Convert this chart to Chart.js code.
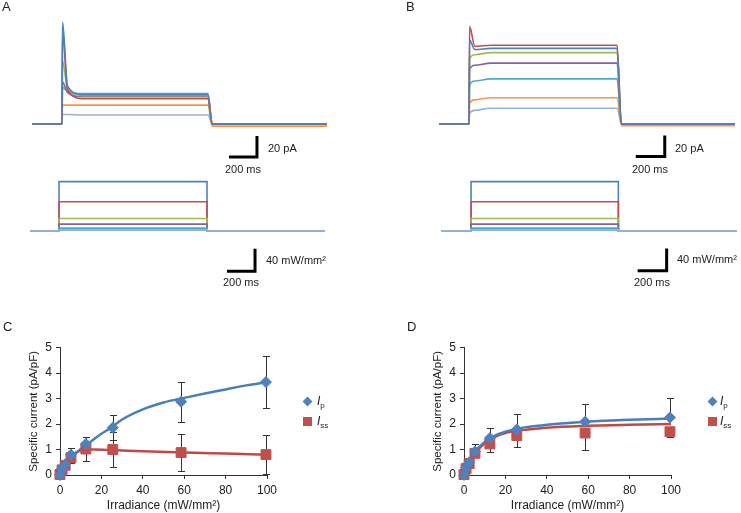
<!DOCTYPE html>
<html lang="en">
<head>
  <meta charset="utf-8">
  <title>Photocurrents vs irradiance</title>
  <script src="https://cdn.jsdelivr.net/npm/chart.js@4.4.0/dist/chart.umd.min.js"></script>
  <style>
    body { margin: 0; background: #fff; font-family: 'Liberation Sans', Arial, sans-serif; color: #222; }
    #fig { position: relative; width: 741px; height: 513px; overflow: hidden; }
    canvas { position: absolute; }
    .txt { position: absolute; font-size: 11px; line-height: 12px; white-space: nowrap; }
    .mid { transform: translateX(-50%); }
    .panel { position: absolute; font-size: 13px; line-height: 14px; }
    .leg { position: absolute; font-size: 12px; line-height: 14px; }
    .leg sub { font-size: 8px; vertical-align: -3px; font-style: normal; }
    .dia, .sq { position: absolute; }
    .dia { width: 7px; height: 7px; background: #4F81BD; transform: rotate(45deg); }
    .sq { width: 9px; height: 9px; background: #C0504D; }
  </style>
</head>
<body>
<div id="fig">
  <canvas id="chartA" width="370" height="300" style="left:0;top:0"></canvas>
  <canvas id="chartB" width="371" height="300" style="left:370px;top:0"></canvas>
  <canvas id="chartC" width="370" height="183" style="left:0;top:330px"></canvas>
  <canvas id="chartD" width="371" height="183" style="left:370px;top:330px"></canvas>

  <div class="panel" style="left:2px;top:0">A</div>
  <div class="panel" style="left:406px;top:0">B</div>
  <div class="panel" style="left:3px;top:320px">C</div>
  <div class="panel" style="left:407px;top:320px">D</div>

  <div class="txt" style="left:268px;top:142px">20 pA</div>
  <div class="txt mid" style="left:243px;top:163px">200 ms</div>
  <div class="txt" style="left:266px;top:254px">40 mW/mm²</div>
  <div class="txt mid" style="left:241px;top:276px">200 ms</div>

  <div class="txt" style="left:675px;top:142px">20 pA</div>
  <div class="txt mid" style="left:650px;top:163px">200 ms</div>
  <div class="txt" style="left:677px;top:253px">40 mW/mm²</div>
  <div class="txt mid" style="left:652px;top:276px">200 ms</div>

  <div class="dia" style="left:303.5px;top:397.5px"></div>
  <div class="leg" style="left:317px;top:394px"><i>I</i><sub>p</sub></div>
  <div class="sq" style="left:302.5px;top:416.5px"></div>
  <div class="leg" style="left:317px;top:414px"><i>I</i><sub>ss</sub></div>

  <div class="dia" style="left:708.5px;top:397.5px"></div>
  <div class="leg" style="left:720px;top:394px"><i>I</i><sub>p</sub></div>
  <div class="sq" style="left:707.5px;top:416.5px"></div>
  <div class="leg" style="left:720px;top:414px"><i>I</i><sub>ss</sub></div>
</div>

<script>
  // ---- values ----
  // light steps, high -> low (one colour each)
  const traceColors = ['#4F81BD', '#C0504D', '#9BBB59', '#8064A2', '#4BACC6', '#F79646', '#95B3D7'];
  const stimLevels = [88, 52, 22, 12, 5, 2, 1];            // mW/mm² as drawn

  // panel A photocurrents (pA)
  const aTimes   = [0, 214, 1257, 2107];                  // start, light on, light off, end (ms)
  const aPeak    = [97, 87, 60, 40, 35, 18, 9];
  const aSettle  = [36, 33, 33, 30, 31, 18, 9];
  const aPlateau = [28, 24, 27, 26, 29, 18, 8.6];
  const aUnder   = [0, 0, 0, 0, 0, -2, 0];
  const aStim    = [-14, 193, 1250, 2093];
  const aBarT    = [1407, 1607];                          // 200 ms bar
  const aBarPA   = [-31.4, -11.4];                        // 20 pA bar
  const aStimBarT = [1393, 1593];
  const aStimBarI = [-72, -32];                           // 40 mW/mm² bar

  // panel B photocurrents (pA)
  const bTimes   = [0, 207, 1228, 2041];
  const bPeak    = [80, 93, 62, 52, 37, 20, 10];
  const bSettle  = [71, 74, 66, 56, 41, 23, 13];
  const bPlateau = [72, 75, 68, 58, 43, 25, 15];
  const bUnder   = [0, 0, 0, 0, 0, -1.5, 0];
  const bStim    = [14, 221, 1237, 2055];
  const bBarT    = [1357, 1557];
  const bBarPA   = [-31, -11];
  const bStimBarT = [1370, 1570];
  const bStimBarI = [-71.4, -31.4];

  // panels C and D: specific current (pA/pF) vs irradiance (mW/mm²)
  const irradiance = [0, 1, 2.5, 5.3, 12.5, 25.5, 58.5, 99.5];
  const cIp      = [0, 0.25, 0.42, 0.8, 1.22, 1.86, 2.88, 3.65];
  const cIpErr   = [0, 0.08, 0.12, 0.27, 0.28, 0.48, 0.79, 1.03];
  const cIss     = [0.02, 0.2, 0.38, 0.68, 1.02, 1.0, 0.88, 0.8];
  const cIssErr  = [0, 0.06, 0.1, 0.2, 0.48, 0.7, 0.72, 0.78];
  const cFitIpX  = [0, 2, 5, 10, 15, 20, 25, 30, 40, 50, 60, 70, 80, 90, 100];
  const cFitIp   = [0, 0.32, 0.66, 1.02, 1.32, 1.62, 1.88, 2.18, 2.58, 2.85, 3.03, 3.2, 3.36, 3.52, 3.65];
  const cFitIssX = [0, 2, 5, 8, 12, 16, 25, 40, 60, 80, 100];
  const cFitIss  = [0, 0.4, 0.72, 0.9, 0.99, 1.0, 0.98, 0.93, 0.88, 0.84, 0.8];

  const dIp       = [0, 0.3, 0.5, 0.92, 1.45, 1.79, 2.09, 2.26];
  const dIpErrUp  = [0, 0.1, 0.15, 0.3, 0.38, 0.6, 0.7, 0.78];
  const dIss      = [0.02, 0.25, 0.45, 0.85, 1.22, 1.55, 1.65, 1.7];
  const dIssErrDn = [0, 0.05, 0.1, 0.15, 0.3, 0.44, 0.65, 0.22];
  const dFitX     = [0, 2, 5, 10, 15, 20, 25, 30, 40, 60, 80, 100];
  const dFitIp    = [0, 0.4, 0.88, 1.3, 1.55, 1.7, 1.8, 1.88, 1.97, 2.1, 2.17, 2.22];
  const dFitIss   = [0, 0.38, 0.82, 1.25, 1.5, 1.65, 1.73, 1.78, 1.86, 1.93, 1.97, 2.0];

  Chart.defaults.font.family = "'Liberation Sans', Arial, sans-serif";
  Chart.defaults.font.size = 12;
  Chart.defaults.color = '#222';

  function trace(times, peak, settle, plateau, under) {
    const [t0, on, off, end] = times;
    return [
      {x: t0, y: 0}, {x: on, y: 0}, {x: on + 4, y: peak}, {x: on + 40, y: settle},
      {x: on + 150, y: plateau}, {x: off, y: plateau}, {x: off + 30, y: under}, {x: end, y: under}
    ];
  }

  function stim(times, level) {
    const [t0, on, off, end] = times;
    return [{x: t0, y: 0}, {x: on, y: 0}, {x: on, y: level}, {x: off, y: level}, {x: off, y: 0}, {x: end, y: 0}];
  }

  function scaleBar(ts, vs, axis) {
    return {
      data: [{x: ts[0], y: vs[0]}, {x: ts[1], y: vs[0]}, {x: ts[1], y: vs[1]}],
      yAxisID: axis, borderColor: '#000', borderWidth: 3, pointRadius: 0,
      borderJoinStyle: 'miter', borderCapStyle: 'butt'
    };
  }

  function traceChart(id, times, peak, settle, plateau, under, stimTimes, bars, xRange) {
    const datasets = [];
    traceColors.forEach((c, i) => {
      datasets.push({
        data: trace(times, peak[i], settle[i], plateau[i], under[i]),
        borderColor: c, borderWidth: 1.6, pointRadius: 0, cubicInterpolationMode: 'monotone'
      });
    });
    traceColors.slice().reverse().forEach((c, k) => {
      const i = traceColors.length - 1 - k;
      datasets.push({
        data: stim(stimTimes, stimLevels[i]), yAxisID: 'y2',
        borderColor: c, borderWidth: 1.6, pointRadius: 0
      });
    });
    datasets.push(scaleBar(bars[0], bars[1], 'y'));
    datasets.push(scaleBar(bars[2], bars[3], 'y2'));

    new Chart(document.getElementById(id), {
      type: 'line',
      data: { datasets },
      options: {
        responsive: false, animation: false, devicePixelRatio: 1,
        layout: { padding: 0 },
        plugins: { legend: { display: false }, tooltip: { enabled: false } },
        scales: {
          x: { type: 'linear', display: false, min: xRange[0], max: xRange[1] },
          y: { display: false, min: -167.6, max: 118.1 },
          y2: { display: false, min: -123.5, max: 412.5 }
        }
      }
    });
  }

  traceChart('chartA', aTimes, aPeak, aSettle, aPlateau, aUnder, aStim,
    [aBarT, aBarPA, aStimBarT, aStimBarI], [-228.6, 2414.3]);
  traceChart('chartB', bTimes, bPeak, bSettle, bPlateau, bUnder, bStim,
    [bBarT, bBarPA, bStimBarT, bStimBarI], [-475.9, 2082.8]);

  // vertical error bars with caps, drawn under the markers
  const errorBars = {
    id: 'errorBars',
    beforeDatasetsDraw(chart) {
      const {ctx, scales: {x, y}} = chart;
      ctx.save();
      ctx.strokeStyle = '#333';
      ctx.lineWidth = 1;
      chart.data.datasets.forEach(ds => {
        if (!ds.errUp) return;
        ds.data.forEach((p, i) => {
          const up = ds.errUp[i], dn = ds.errDown[i];
          if (!up && !dn) return;
          const px = Math.round(x.getPixelForValue(p.x)) + 0.5;
          const yt = Math.round(y.getPixelForValue(p.y + up)) + 0.5;
          const yb = Math.round(y.getPixelForValue(p.y - dn)) + 0.5;
          ctx.beginPath();
          ctx.moveTo(px, yt); ctx.lineTo(px, yb);
          if (up) { ctx.moveTo(px - 3.5, yt); ctx.lineTo(px + 3.5, yt); }
          if (dn) { ctx.moveTo(px - 3.5, yb); ctx.lineTo(px + 3.5, yb); }
          ctx.stroke();
        });
      });
      ctx.restore();
    }
  };

  function pts(xs, ys) { return xs.map((x, i) => ({x, y: ys[i]})); }

  function fitChart(id, ip, ipUp, ipDn, iss, issUp, issDn, ipFit, issFit, padLeft, padRight) {
    new Chart(document.getElementById(id), {
      type: 'line',
      data: {
        datasets: [
          { data: pts(irradiance, ip), errUp: ipUp, errDown: ipDn, showLine: false, order: 0, clip: false,
            pointStyle: 'rectRot', pointRadius: 5.5, pointBackgroundColor: '#4F81BD', pointBorderColor: '#4F81BD' },
          { data: pts(irradiance, iss), errUp: issUp, errDown: issDn, showLine: false, order: 0, clip: false,
            pointStyle: 'rect', pointRadius: 7, pointBackgroundColor: '#C0504D', pointBorderColor: '#C0504D' },
          { data: ipFit, borderColor: '#4A7EBB', borderWidth: 2.5, pointRadius: 0, order: 1,
            cubicInterpolationMode: 'monotone', clip: false },
          { data: issFit, borderColor: '#BE4B48', borderWidth: 2.5, pointRadius: 0, order: 2,
            cubicInterpolationMode: 'monotone', clip: false }
        ]
      },
      options: {
        responsive: false, animation: false, devicePixelRatio: 1,
        layout: { padding: { left: padLeft, right: padRight, top: 17.7, bottom: 0 } },
        plugins: { legend: { display: false }, tooltip: { enabled: false } },
        scales: {
          x: {
            type: 'linear', min: 0, max: 100,
            afterFit: s => { s.height = 38; },
            ticks: { stepSize: 20, padding: 4 },
            grid: { drawOnChartArea: false, tickLength: 4, color: '#333' },
            border: { color: '#333' },
            title: { display: true, text: 'Irradiance (mW/mm²)', padding: { top: 1, bottom: 0 } }
          },
          y: {
            min: 0, max: 5,
            afterFit: s => { s.width = 38; },
            ticks: { stepSize: 1, padding: 4 },
            grid: { drawOnChartArea: false, tickLength: 4, color: '#333' },
            border: { color: '#333' },
            title: { display: true, text: 'Specific current (pA/pF)', font: { size: 11.5 }, padding: { top: 5, bottom: 2 } }
          }
        }
      },
      plugins: [errorBars]
    });
  }

  const zeros = irradiance.map(() => 0);
  fitChart('chartC', cIp, cIpErr, cIpErr, cIss, cIssErr, cIssErr,
    pts(cFitIpX, cFitIp), pts(cFitIssX, cFitIss), 22, 103);
  fitChart('chartD', dIp, dIpErrUp, zeros, dIss, zeros, dIssErrDn,
    pts(dFitX, dFitIp), pts(dFitX, dFitIss), 56, 70);
</script>
</body>
</html>
